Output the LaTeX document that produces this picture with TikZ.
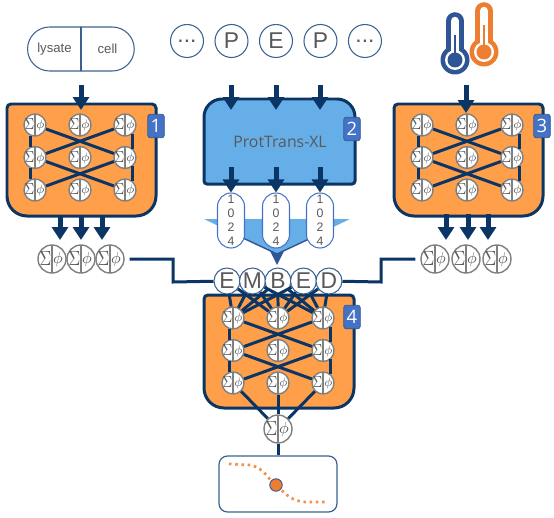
\documentclass[tikz,border=0pt]{standalone}
\usepackage{xcolor}
\usepackage{graphicx}
\usepackage{fontspec}
\setmainfont{Liberation Sans}
\newfontfamily\segoe{Open Sans}
\usetikzlibrary{arrows.meta, positioning, shapes.misc, backgrounds}

\definecolor{navy}{HTML}{0B3564}
\definecolor{panelorange}{HTML}{FF9F4A}
\definecolor{panelblue}{HTML}{66AEE8}
\definecolor{badgeblue}{HTML}{4472C4}
\definecolor{edgeblue}{HTML}{3A6291}
\definecolor{textgray}{HTML}{595959}
\definecolor{thermoblue}{HTML}{2F5597}
\definecolor{thermoorange}{HTML}{ED7D31}

\newcommand{\sumphi}{\llap{\raisebox{-.08em}{\scalebox{1}[1.3]{$\Sigma$}}\kern.4pt}\rlap{\kern.7pt$\phi$}}

% three rows of three units with their links
\newcommand{\neuralnet}[3]{
  \foreach \c in {1,2,3}
    \foreach \r in {1,2,3}
      \node[neuron] (#1\c\r) at ({#2+45*(\c-1)},{#3+32.5*(\r-1)}) {\sumphi};
  \foreach \a/\b in {11/32, 31/12, 12/33, 32/13}
    \draw[link] (#1\a) -- (#1\b);
  \draw[link] (#111.250) -- (#112.110);
  \draw[link] (#112.250) -- (#113.110);
  \draw[link] (#131.-50) -- (#132.50);
  \draw[link] (#132.-50) -- (#133.50);
}
% panel with its own top and bottom corner radius
\newcommand{\panel}[7]{
  \begin{scope}[on background layer]
    \filldraw[panelline, fill=#1, rounded corners=#6] (#2,{(#3+#5)/2}) -- (#2,#3) -- (#4,#3) -- (#4,{(#3+#5)/2})
      [rounded corners=#7] -- (#4,#5) -- (#2,#5) -- cycle;
  \end{scope}
}
\newcommand{\thermo}[4]{
  \draw[#1, line width=.352cm, line cap=round] (#2,#3) -- (#2,#4);
  \fill[#1] (#2,#4) circle[radius=14.5];
  \draw[white, line width=.17cm, line cap=round] (#2,#3) -- (#2,#4);
  \fill[white] (#2,#4) circle[radius=10];
  \fill[#1] (#2,#4) circle[radius=7.5];
  \draw[#1, line width=.05cm] (#2,{#3+14}) -- (#2,#4);
}

\begin{document}
\begin{tikzpicture}[
  x=.02cm, y=-.02cm,
  on grid,
  neuron/.style={circle, draw=gray, fill=white, line width=.8pt, minimum size=.44cm, inner sep=0pt, text=textgray, font=\fontsize{7.5}{7.5}\selectfont,
    path picture={\draw[gray, line width=.8pt] (path picture bounding box.north) -- (path picture bounding box.south);}},
  output/.style={neuron, minimum size=.56cm, font=\fontsize{9.5}{9.5}\selectfont},
  token/.style={circle, draw=edgeblue, fill=white, line width=.6pt, minimum size=.66cm, inner sep=0pt, text=textgray, font=\fontsize{13}{13}\selectfont},
  embed/.style={token, minimum size=.52cm},
  capsule/.style={rounded rectangle, draw=edgeblue, line width=.6pt, outer sep=0pt, minimum width=1.06cm, minimum height=.88cm, inner sep=0pt, text=textgray, font=\fontsize{7.5}{9}\selectfont},
  pill/.style={rectangle, rounded corners=.27cm, draw=badgeblue, fill=white, line width=.6pt, minimum width=.54cm, minimum height=1.1cm, inner sep=0pt, align=center, text=textgray, font=\fontsize{7}{8}\selectfont},
  badge/.style={rectangle, rounded corners=.05cm, draw=thermoblue, fill=badgeblue, minimum width=.33cm, minimum height=.47cm, inner sep=0pt, text=white, font=\segoe\fontsize{10.5}{10.5}\selectfont},
  panelline/.style={draw=navy, line width=.06cm},
  link/.style={draw=navy, line width=.06cm},
  wire/.style={draw=navy, line width=.06cm},
  arrow/.style={navy, line width=.1cm, -{Triangle[width=.32cm,length=.26cm]}},
]
  \useasboundingbox (0,0) rectangle (554,517);

  % input 1
  \node[capsule, rounded rectangle right arc=none] (lysate) at (54.5,49) {lysate};
  \node[capsule, rounded rectangle left arc=none, right=1.06cm of lysate] (cell) {cell};

  % input 2
  \node[token] (tok1) at (187,41) {...};
  \node[token, right=.89cm of tok1] (tok2) {P};
  \node[token, right=.89cm of tok2] (tok3) {E};
  \node[token, right=.89cm of tok3] (tok4) {P};
  \node[token, right=.89cm of tok4] (tok5) {...};

  % input 3
  \thermo{thermoblue}{455}{21}{60}
  \thermo{thermoorange}{484}{11}{52}

  % networks
  \neuralnet{a}{35}{125}
  \panel{panelorange}{7}{104}{156}{216}{.08cm}{.4cm}
  \node[badge] (badge1) at (156,126) {1};

  \neuralnet{c}{422}{125}
  \panel{panelorange}{394}{104}{543}{216}{.08cm}{.4cm}
  \node[badge] (badge3) at (542,126) {3};

  \neuralnet{d}{233}{318}
  \panel{panelorange}{204}{295}{354}{408}{.08cm}{.4cm}
  \node[badge] (badge4) at (352,317) {4};

  % embedding model
  \panel{panelblue}{204}{99}{355}{184}{.36cm}{.06cm}
  \node[text=textgray, font=\segoe\fontsize{9}{9}\selectfont] (model) at (280,142) {ProtTrans-XL};
  \node[badge] (badge2) at (352,129) {2};

  \foreach \i/\x in {1/231, 2/276, 3/320} {
    \node[pill] (pill\i) at (\x,220.5) {1\\0\\2\\4};
    \coordinate (modelin\i) at (\x,85);
    \coordinate (modelout\i) at (\x,167);
    \coordinate (modeltop\i) at (\x,110);
    \draw[arrow] (modelin\i) -- (modeltop\i);
    \draw[arrow] (modelout\i) -- (pill\i.north);
  }
  \begin{scope}[on background layer]
    \fill[panelblue] (204,219) -- (350,219) -- (277,254) -- cycle;
    \draw[thermoblue, line width=.8pt] (244,238.5) -- (277,254) -- (310,238.5);
    \fill[thermoblue] (270,251) -- (277,254) -- (284,251) -- (277,265) -- cycle;
  \end{scope}

  % outputs of the side networks
  \node[output] (outa1) at (52,259) {\sumphi};
  \node[output, right=.58cm of outa1] (outa2) {\sumphi};
  \node[output, right=.58cm of outa2] (outa3) {\sumphi};
  \node[output] (outc1) at (435,259) {\sumphi};
  \node[output, right=.62cm of outc1] (outc2) {\sumphi};
  \node[output, right=.62cm of outc2] (outc3) {\sumphi};

  % arrows in and out of the side networks
  \coordinate (lysatein) at (81,85);
  \coordinate (lysatetip) at (81,110);
  \draw[arrow] (lysatein) -- (lysatetip);
  \coordinate (thermoin) at (466,85);
  \coordinate (thermotip) at (466,113);
  \draw[arrow] (thermoin) -- (thermotip);
  \foreach \i/\x in {1/60, 2/81, 3/102} {
    \coordinate (afrom\i) at (\x,216);
    \coordinate (ato\i) at (\x,240);
    \draw[arrow] (afrom\i) -- (ato\i);
  }
  \foreach \i/\x in {1/446, 2/468, 3/488} {
    \coordinate (cfrom\i) at (\x,214);
    \coordinate (cto\i) at (\x,240);
    \draw[arrow] (cfrom\i) -- (cto\i);
  }

  % EMBED row
  \node[embed] (emb1) at (227,281) {E};
  \node[embed, right=.51cm of emb1] (emb2) {M};
  \node[embed, right=.51cm of emb2] (emb3) {B};
  \node[embed, right=.51cm of emb3] (emb4) {E};
  \node[embed, right=.51cm of emb4] (emb5) {D};

  \coordinate (elbowa) at (173,282);
  \coordinate (elbowc) at (381,282);
  \draw[wire, shorten <=.1cm] (outa3) -| (elbowa) -- (emb1);
  \draw[wire, shorten <=.1cm] (outc1) -| (elbowc) -- (emb5);

  \foreach \e/\n in {1/11, 1/21, 2/11, 2/21, 2/31, 3/11, 3/21, 3/31, 4/21, 4/31, 4/11, 5/31, 5/21}
    \draw[link] (emb\e) -- (d\n);

  % final output
  \node[output] (total) at (278,429) {\sumphi};
  \foreach \n in {13, 23, 33}
    \draw[link] (d\n) -- (total);

  \node[rectangle, rounded corners=.17cm, draw=edgeblue, line width=.7pt, minimum width=2.36cm, minimum height=1.12cm] (plot) at (278,484) {};
  \draw[link] (total) -- (plot);
  \draw[thermoorange!85!white, line width=.055cm, dash pattern=on .05cm off .075cm] (229,464) -- (250,465) .. controls (265,468) and (268,480) .. (276,485) .. controls (284,492) and (290,501) .. (305,502) -- (326,502);
  \node[circle, draw=thermoblue, fill=thermoorange, line width=.5pt, minimum size=.25cm, inner sep=0pt] (point) at (276,485) {};
\end{tikzpicture}
\end{document}
